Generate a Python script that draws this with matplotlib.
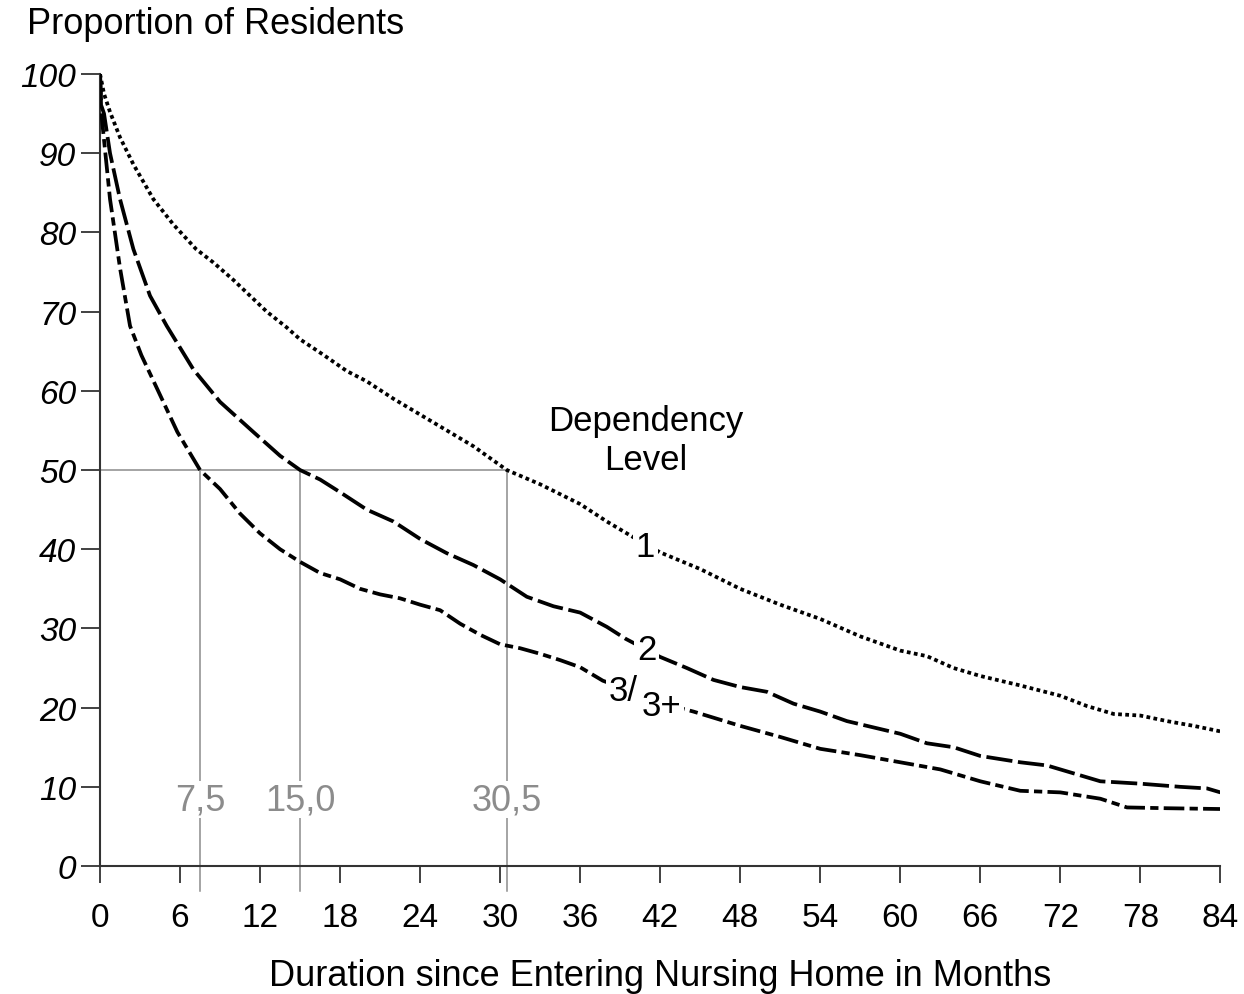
import matplotlib.pyplot as plt

plt.rcParams["font.family"] = ["Liberation Sans", "DejaVu Sans"]

# Dependency level 1 (dotted)
months_1 = [0, 0.3, 0.75, 1.5, 2.5, 4, 5.5, 7.2, 8.5, 10, 11.25, 12.5, 14, 15, 16.7,
            18.5, 20, 22, 24, 26, 28, 30.5, 33, 36, 38, 40, 42, 45, 48, 51, 54, 57, 60,
            62, 64, 66, 69, 72, 74, 76, 78, 80, 82, 84]
level_1 = [100, 97.5, 95.2, 92, 88.6, 84.2, 81, 77.9, 76.2, 74, 72, 70, 68, 66.5, 64.6,
           62.5, 61.2, 59, 57, 55, 53, 50, 48.2, 45.7, 43.5, 41.5, 39.6, 37.5, 35, 33, 31.2, 29, 27.2,
           26.5, 25, 24, 22.8, 21.5, 20.2, 19.2, 19, 18.3, 17.7, 17]

# Dependency level 2 (long dashes)
months_2 = [0, 0.1, 0.3, 0.75, 1.5, 2.5, 3.75, 5, 7, 9, 11.5, 13.5, 15, 16.5, 18,
            20, 22, 24, 26, 28, 30, 32, 34, 36, 38, 39.4, 42, 44, 46, 48, 50, 52, 54, 56, 58,
            60, 62, 64, 66, 69, 71, 72, 74, 75, 78, 81, 83, 84]
level_2 = [100, 96, 95, 90, 84.2, 77.9, 72, 68.2, 62.7, 58.6, 54.8, 51.8, 50, 48.8, 47.2,
           45, 43.5, 41.3, 39.5, 38, 36.2, 34, 32.8, 32, 30.2, 28.7, 26.4, 25, 23.5, 22.6, 22, 20.5,
           19.5, 18.3, 17.5, 16.7, 15.5, 15, 13.9, 13.1, 12.7, 12.2, 11.2, 10.7, 10.4, 10, 9.8, 9.3]

# Dependency level 3/3+ (dash - short dash)
months_3 = [0, 0.1, 0.75, 1.5, 2.25, 3.1, 4.3, 5.8, 7.5, 9, 10.5, 12, 13.5, 15, 16.5, 18, 19.5, 21,
            22.5, 24, 25.5, 27, 28.5, 30, 31.5, 33, 34.5, 36, 37.7, 40, 42, 44.5, 48, 51, 54, 57,
            60, 63, 66, 69, 72, 75, 77, 80, 84]
level_3 = [100, 95, 84.2, 75.5, 68.2, 64.5, 60.2, 54.8, 50, 47.6, 44.5, 42, 40, 38.4, 37, 36.2, 35, 34.3,
           33.8, 33, 32.3, 30.6, 29.2, 28, 27.5, 26.8, 26, 25.1, 23.4, 22, 20.6, 19.5, 17.7, 16.3, 14.8, 14,
           13.1, 12.2, 10.7, 9.5, 9.3, 8.5, 7.4, 7.3, 7.2]

medians = [7.5, 15.0, 30.5]
median_labels = ["7,5", "15,0", "30,5"]
x_ticks = list(range(0, 85, 6))
y_ticks = list(range(0, 101, 10))

fig = plt.figure(figsize=(12.44, 9.95), dpi=100)
ax = fig.add_axes([0.0804, 0.1286, 0.9006, 0.796])

grey = "#8c8c8c"
# median reference lines
ax.plot([0, max(medians)], [50, 50], color=grey, lw=1.1, zorder=1)
for m, lab in zip(medians, median_labels):
    ax.plot([m, m], [50, -3.2], color=grey, lw=1.1, zorder=1, clip_on=False)
    ax.text(m, 8.4, lab, color=grey, fontsize=26, ha="center", va="center", zorder=2,
            bbox=dict(facecolor="white", edgecolor="none", pad=1))

ax.plot(months_1, level_1, color="black", lw=2.7, linestyle=(0, (1.0, 0.9)), zorder=3)
ax.plot(months_2, level_2, color="black", lw=2.7, linestyle=(0, (7, 1.5)), zorder=3)
ax.plot(months_3, level_3, color="black", lw=2.7, linestyle=(0, (5.5, 1.4, 2.2, 1.4)), zorder=3)

ax.text(40.9, 53.8, "Dependency\nLevel", fontsize=25, ha="center", va="center",
        linespacing=1.25, zorder=5)
lab_box = dict(facecolor="white", edgecolor="none", pad=2)
ax.text(40.9, 40.3, "1", fontsize=25, ha="center", va="center", zorder=5, bbox=lab_box)
ax.text(41.0, 27.4, "2", fontsize=25, ha="center", va="center", zorder=5, bbox=lab_box)
ax.text(39.2, 22.2, "3/", fontsize=25, ha="center", va="center", zorder=5, bbox=lab_box)
ax.text(42.1, 20.3, "3+", fontsize=25, ha="center", va="center", zorder=5, bbox=lab_box)

ax.set_xlim(0, 84)
ax.set_ylim(0, 100)
ax.set_xticks(x_ticks)
ax.set_yticks(y_ticks)
ax.set_xticklabels([str(t) for t in x_ticks], fontsize=24)
ax.set_yticklabels([str(t) for t in y_ticks], fontsize=24, style="italic")
ax.tick_params(axis="x", direction="out", length=12, width=1.3, color="#333333", pad=14)
ax.tick_params(axis="y", direction="out", length=14, width=1.3, color="#333333", pad=3)
for side in ["top", "right"]:
    ax.spines[side].set_visible(False)
for side in ["left", "bottom"]:
    ax.spines[side].set_color("#333333")
    ax.spines[side].set_linewidth(1.5)

ax.set_xlabel("Duration since Entering Nursing Home in Months", fontsize=26, labelpad=18)
fig.text(0.022, 0.975, "Proportion of Residents", fontsize=26, ha="left", va="center")

fig.savefig("out.png", dpi=100)
